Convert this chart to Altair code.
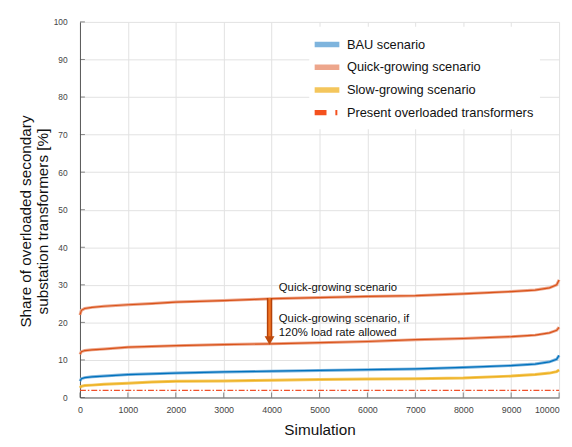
import altair as alt
import pandas as pd

# ---- data ----
sim = [0, 30, 100, 250, 500, 1000, 1500, 2000, 3000, 4000, 5000, 6000, 7000, 8000, 9000, 9500, 9800, 9950, 10000]
quick = [22.0, 23.2, 23.7, 24.0, 24.3, 24.7, 25.0, 25.4, 25.8, 26.3, 26.6, 26.9, 27.1, 27.6, 28.2, 28.6, 29.2, 30.0, 31.3]
quick120 = [11.5, 12.2, 12.5, 12.7, 12.9, 13.4, 13.6, 13.8, 14.1, 14.3, 14.6, 14.9, 15.4, 15.7, 16.2, 16.6, 17.2, 17.9, 18.7]
bau = [4.4, 5.0, 5.3, 5.5, 5.7, 6.1, 6.3, 6.5, 6.8, 7.0, 7.2, 7.4, 7.6, 8.0, 8.5, 8.9, 9.5, 10.2, 11.2]
slow = [2.6, 3.0, 3.2, 3.3, 3.5, 3.8, 4.1, 4.3, 4.4, 4.6, 4.8, 4.9, 5.0, 5.2, 5.7, 6.1, 6.5, 6.9, 7.3]
present_x = [0, 10000]
present_y = [1.9, 1.9]

series_names = ["BAU scenario", "Quick-growing scenario", "Slow-growing scenario",
                "Present overloaded transformers"]
light_colors = ["#7EB4DD", "#EDA68C", "#F4C65C", "#F4511E"]
legend_dash = [[1, 0], [1, 0], [1, 0], [12, 9, 2, 30]]
legend_width = [5.5, 5.5, 5.5, 2.5]
present_dash = [6, 2, 1.5, 2]

x_ticks = list(range(0, 10001, 1000))
y_ticks = list(range(0, 101, 10))

arrow_x = [3957]
arrow_top = [26.5]
arrow_bottom = [15.9]
arrow_head = [15.2]

note_x = [4150, 4150, 4150]
note_y = [28.3, 20.1, 16.3]
note_text = ["Quick-growing scenario", "Quick-growing scenario, if", "120% load rate allowed"]

# ---- tables ----
rows = []
for curve, series, ys, dark, light in [
    ("quick", series_names[1], quick, "#D95319", light_colors[1]),
    ("quick120", series_names[1], quick120, "#D95319", light_colors[1]),
    ("bau", series_names[0], bau, "#0072BD", light_colors[0]),
    ("slow", series_names[2], slow, "#EDB120", light_colors[2]),
]:
    for xv, yv in zip(sim, ys):
        rows.append({"curve": curve, "series": series, "x": xv, "y": yv, "dark": dark, "light": light})
df = pd.DataFrame(rows)
pdf = pd.DataFrame({"x": present_x, "y": present_y})
ldf = pd.DataFrame({"series": series_names, "x": [0] * 4, "y": [0] * 4})

W, H = 486, 381
FONT = "Liberation Sans"

xs = alt.Scale(domain=[0, 10000], nice=False)
ys_ = alt.Scale(domain=[0, 100], nice=False)

x_axis = alt.Axis(values=x_ticks, format="d", ticks=False, labelPadding=8, titlePadding=9,
                  labelAlign=alt.condition("datum.value == 10000", alt.value("right"), alt.value("center")),
                  labelFontSize=9, titleFontSize=15.5, titleFontWeight="normal", labelOverlap=False)
y_axis = alt.Axis(values=y_ticks, format="d", ticks=False, labelPadding=13, titlePadding=3,
                  labelFontSize=8.5, titleFontSize=15.5, titleFontWeight="normal",
                  titleLineHeight=17, titleY=202, labelOverlap=False)
X_TITLE = "Simulation"
Y_TITLE = ["Share of overloaded secondary", "substation transformers [%]"]


def X(field):
    return alt.X(field, type="quantitative", scale=xs, axis=x_axis, title=X_TITLE)


def Y(field):
    return alt.Y(field, type="quantitative", scale=ys_, axis=y_axis, title=Y_TITLE)


legend = alt.Legend(
    title=None, orient="none", legendX=232.6, legendY=5, fillColor="white", padding=6,
    symbolType="M-1.4,0L1.4,0", symbolSize=320, labelFontSize=13,
    labelFont=FONT, labelOffset=8.2, rowPadding=0, labelColor="#111", labelLimit=400,
)

under = alt.Chart(df).mark_line(strokeWidth=3, strokeCap="butt").encode(
    x=X("x"), y=Y("y"), color=alt.Color("light:N", scale=None), detail="curve:N")

# single point per series: draws nothing, only drives the legend
legend_layer = alt.Chart(ldf).mark_line(strokeCap="butt").encode(
    x=X("x"), y=Y("y"),
    color=alt.Color("series:N", scale=alt.Scale(domain=series_names, range=light_colors), legend=legend),
    strokeDash=alt.StrokeDash("series:N", scale=alt.Scale(domain=series_names, range=legend_dash), legend=legend),
    strokeWidth=alt.StrokeWidth("series:N", scale=alt.Scale(domain=series_names, range=legend_width), legend=legend),
)

over = alt.Chart(df).mark_line(strokeWidth=1.2).encode(
    x=X("x"), y=Y("y"), color=alt.Color("dark:N", scale=None), detail="curve:N")

present = alt.Chart(pdf).mark_line(strokeWidth=1.1, strokeDash=present_dash, color="#F0502A").encode(
    x=X("x"), y=Y("y"))

xt = alt.Chart(pd.DataFrame({"v": x_ticks})).mark_tick(color="#555", thickness=1, size=5, orient="vertical").encode(
    x=X("v"), y=alt.value(H - 2.5))
yt = alt.Chart(pd.DataFrame({"v": y_ticks})).mark_tick(color="#555", thickness=1, size=5, orient="horizontal").encode(
    y=Y("v"), x=alt.value(2.5))

adf = pd.DataFrame({"x": arrow_x, "top": arrow_top, "bottom": arrow_bottom, "head": arrow_head})
shaft_dark = alt.Chart(adf).mark_rule(strokeWidth=5.5, color="#B3420A").encode(x=X("x"), y=Y("top"), y2="bottom:Q")
shaft_light = alt.Chart(adf).mark_rule(strokeWidth=2.5, color="#F47523").encode(x=X("x"), y=Y("top"), y2="bottom:Q")
head = alt.Chart(adf).mark_point(shape="triangle-down", filled=True, size=100, opacity=1, color="#BF4A0C").encode(
    x=X("x"), y=Y("head"))

tdf = pd.DataFrame({"x": note_x, "y": note_y, "t": note_text})
notes = alt.Chart(tdf).mark_text(align="left", baseline="alphabetic", fontSize=11.5, font=FONT, color="#111").encode(
    x=X("x"), y=Y("y"), text="t:N")

chart = alt.layer(under, legend_layer, over, present, xt, yt, shaft_dark, shaft_light, head, notes).properties(
    width=W, height=H,
    autosize=alt.AutoSizeParams(type="none"),
    padding={"left": 73, "top": 11, "right": 5, "bottom": 39},
    background="white",
).configure_view(stroke=None).configure_axis(
    labelFont=FONT, titleFont=FONT, labelColor="#444", titleColor="#111",
    domainColor="#555", gridColor="#e2e2e2", gridWidth=1,
)

chart.save("out.html", embed_options={"renderer": "svg", "actions": False})
